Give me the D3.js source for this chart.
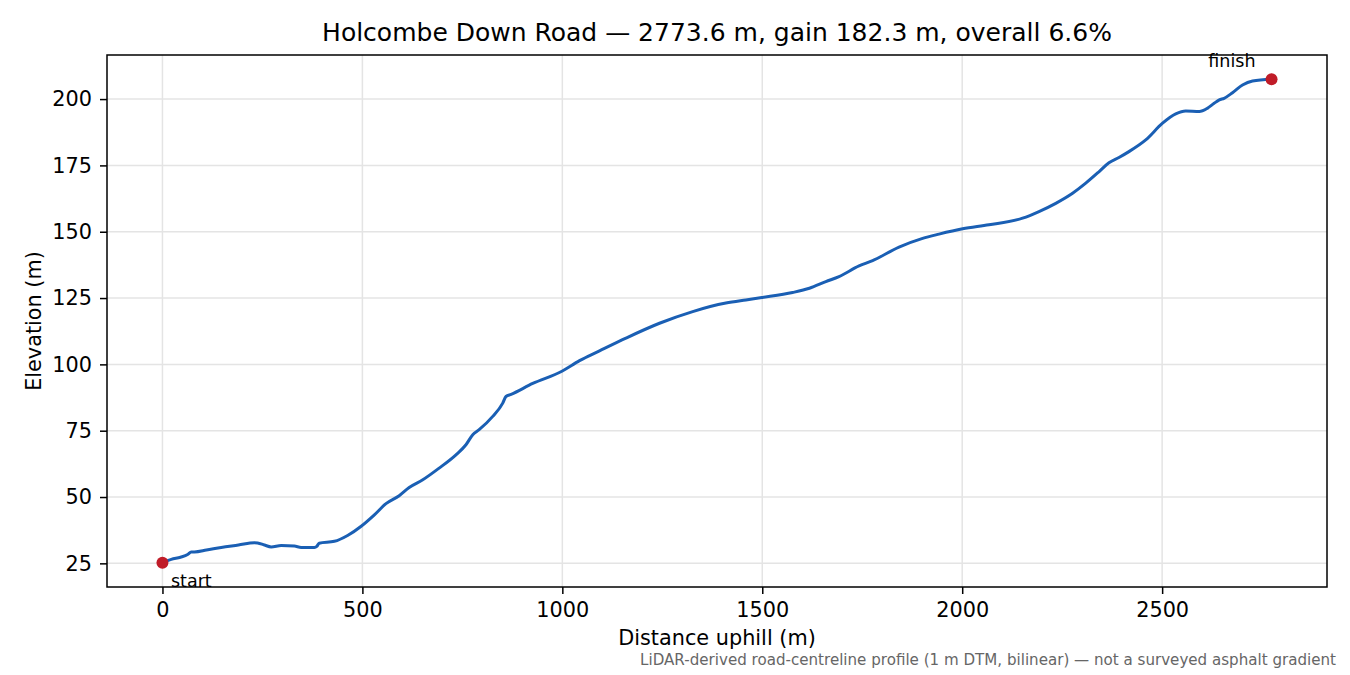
<!DOCTYPE html>
<html>
<head>
<meta charset="utf-8">
<script src="https://cdn.jsdelivr.net/npm/d3@7"></script>
<style>
  body { margin:0; background:#fff; }
  svg text { font-family: "DejaVu Sans", sans-serif; fill:#000; }
</style>
</head>
<body>
<div id="chart"></div>
<script>
// profile (distance uphill in m, elevation in m)
var distance = [0, 22, 45, 63, 72, 80, 110, 147, 190, 230, 238, 255, 272, 297, 330, 347, 380, 386, 392, 430,
  463, 497, 530, 559, 592, 617, 651, 692, 734, 759, 776, 792, 826, 851, 859, 872, 926, 999, 1043, 1093,
  1159, 1243, 1326, 1409, 1459, 1499, 1576, 1618, 1659, 1692, 1742, 1776, 1842, 1901, 1942, 2001, 2067,
  2151, 2192, 2234, 2276, 2309, 2342, 2367, 2392, 2417, 2459, 2501, 2534, 2559, 2593, 2613, 2630, 2643,
  2655, 2676, 2701, 2726, 2773.6];
var elevation = [25.2, 26.5, 27.3, 28.3, 29.3, 29.3, 30.0, 31.0, 31.9, 32.8, 32.7, 31.9, 31.2, 31.7, 31.5, 31.0, 31.0, 31.4, 32.6, 33.3,
  35.5, 39.0, 43.3, 47.5, 50.5, 53.6, 56.5, 60.9, 65.9, 69.7, 73.5, 75.4, 80.4, 85.4, 87.9, 88.7, 92.8, 97.4, 101.4, 105.1,
  109.9, 115.5, 119.9, 123.1, 124.3, 125.2, 127.1, 128.7, 131.2, 133.1, 137.1, 139.1, 144.2, 147.5, 149.1, 151.1, 152.6,
  155.1, 157.6, 160.7, 164.5, 168.3, 172.6, 176.0, 178.0, 180.2, 184.6, 190.9, 194.4, 195.5, 195.3, 196.5, 198.4, 199.7,
  200.3, 202.4, 205.3, 206.8, 207.5];
var xTicks = [0, 500, 1000, 1500, 2000, 2500];
var yTicks = [25, 50, 75, 100, 125, 150, 175, 200];
var endLabels = ['start', 'finish'];
var titleText = 'Holcombe Down Road \u2014 2773.6 m, gain 182.3 m, overall 6.6%';
var xLabel = 'Distance uphill (m)';
var yLabel = 'Elevation (m)';
var note = 'LiDAR-derived road-centreline profile (1 m DTM, bilinear) \u2014 not a surveyed asphalt gradient';

function drawProfile(id){
  let width = 1350, height = 675;
  let pLeft = 107, pRight = 1327, pTop = 55, pBottom = 587;

  let data = distance.map(function(d,i){ return {d:d, e:elevation[i]}; });

  // 5% padding around the data like the original plot
  let xExt = d3.extent(distance), yExt = d3.extent(elevation);
  let xPad = (xExt[1]-xExt[0])*0.05, yPad = (yExt[1]-yExt[0])*0.05;

  let x = d3.scaleLinear().domain([xExt[0]-xPad, xExt[1]+xPad]).range([pLeft, pRight]);
  let y = d3.scaleLinear().domain([yExt[0]-yPad, yExt[1]+yPad]).range([pBottom, pTop]);

  let svg = d3.select(id).append("svg")
      .attr("width", width)
      .attr("height", height);

  // grid
  svg.append("g").selectAll("line")
      .data(xTicks)
    .enter().append("line")
      .attr("x1", function(d){ return x(d); })
      .attr("x2", function(d){ return x(d); })
      .attr("y1", pTop).attr("y2", pBottom)
      .attr("stroke", "#e4e4e4").attr("stroke-width", 1.5);
  svg.append("g").selectAll("line")
      .data(yTicks)
    .enter().append("line")
      .attr("y1", function(d){ return y(d); })
      .attr("y2", function(d){ return y(d); })
      .attr("x1", pLeft).attr("x2", pRight)
      .attr("stroke", "#e4e4e4").attr("stroke-width", 1.5);

  // axes
  let xAxis = svg.append("g")
      .attr("transform", "translate(0," + pBottom + ")")
      .call(d3.axisBottom(x).tickValues(xTicks).tickFormat(d3.format("d")).tickSize(7).tickPadding(8.5).tickSizeOuter(0));
  let yAxis = svg.append("g")
      .attr("transform", "translate(" + pLeft + ",0)")
      .call(d3.axisLeft(y).tickValues(yTicks).tickFormat(d3.format("d")).tickSize(7).tickPadding(8).tickSizeOuter(0));
  [xAxis, yAxis].forEach(function(a){
    a.select(".domain").remove();
    a.selectAll(".tick line").attr("stroke", "#000").attr("stroke-width", 1.5);
    a.selectAll(".tick text")
      .attr("font-size", "20.8px")
      .attr("font-family", '"DejaVu Sans", sans-serif')
      .attr("fill", "#000");
  });

  // line
  svg.append("path")
      .datum(data)
      .attr("fill", "none")
      .attr("stroke", "#1a5fb4")
      .attr("stroke-width", 3)
      .attr("stroke-linejoin", "round")
      .attr("d", d3.line()
        .x(function(d){ return x(d.d); })
        .y(function(d){ return y(d.e); })
        .curve(d3.curveMonotoneX));

  // start / finish points
  let ends = [data[0], data[data.length-1]];
  svg.selectAll(".endpt")
      .data(ends)
    .enter().append("circle")
      .attr("class", "endpt")
      .attr("cx", function(d){ return x(d.d); })
      .attr("cy", function(d){ return y(d.e); })
      .attr("r", 6)
      .attr("fill", "#c01c28");

  svg.selectAll(".endlabel")
      .data(ends)
    .enter().append("text")
      .attr("class", "endlabel")
      .attr("x", function(d,i){ return i==0 ? x(d.d)+8.5 : x(d.d)-16; })
      .attr("y", function(d,i){ return i==0 ? y(d.e)+24.5 : y(d.e)-12.5; })
      .style("text-anchor", function(d,i){ return i==0 ? "start" : "end"; })
      .attr("font-size", "17.5px")
      .text(function(d,i){ return endLabels[i]; });

  // frame
  svg.append("rect")
      .attr("x", pLeft).attr("y", pTop)
      .attr("width", pRight-pLeft).attr("height", pBottom-pTop)
      .attr("fill", "none").attr("stroke", "#000").attr("stroke-width", 1.5);

  // texts
  svg.append("text")
      .attr("x", (pLeft+pRight)/2).attr("y", 41)
      .style("text-anchor", "middle")
      .attr("font-size", "25px")
      .text(titleText);
  svg.append("text")
      .attr("x", (pLeft+pRight)/2).attr("y", 645)
      .style("text-anchor", "middle")
      .attr("font-size", "20.8px")
      .text(xLabel);
  svg.append("text")
      .attr("transform", "translate(41," + (pTop+pBottom)/2 + ") rotate(-90)")
      .style("text-anchor", "middle")
      .attr("font-size", "20.8px")
      .text(yLabel);
  svg.append("text")
      .attr("x", 1336).attr("y", 665)
      .style("text-anchor", "end")
      .attr("font-size", "15.1px")
      .style("fill", "#666666")
      .text(note);
}

drawProfile("#chart");
</script>
</body>
</html>
